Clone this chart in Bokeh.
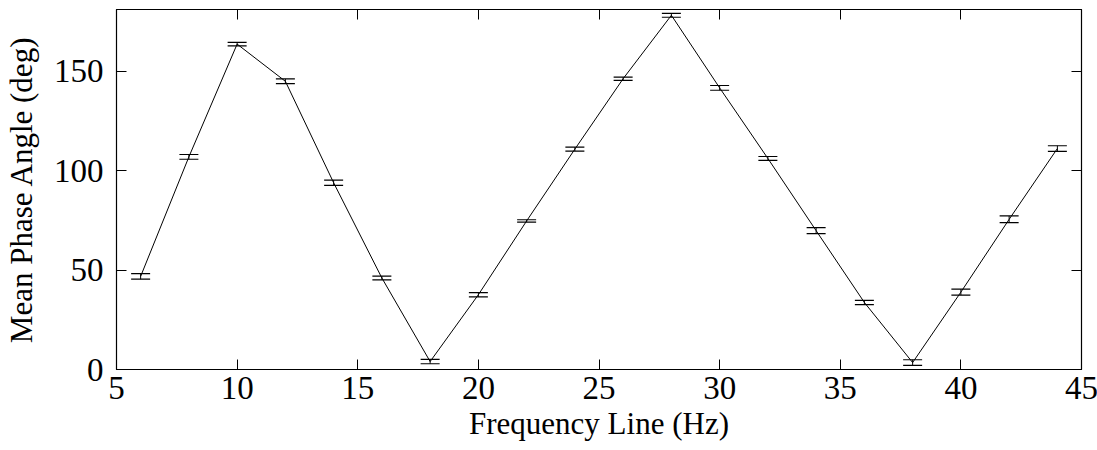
from bokeh.plotting import figure
from bokeh.models import ColumnDataSource, Whisker, TeeHead, LinearAxis, Range1d, FixedTicker
from bokeh.embed import file_html
from bokeh.resources import INLINE

freq = [6, 8, 10, 12, 14, 16, 18, 20, 22, 24, 26, 28, 30, 32, 34, 36, 38, 40, 42, 44]
phase = [46.8, 106.9, 163.6, 144.9, 93.9, 46.0, 4.0, 37.6, 74.7, 110.8, 146.2, 178.1,
         141.6, 106.1, 69.8, 33.7, 3.5, 38.9, 75.5, 111.1]
err = [1.4, 1.2, 0.85, 1.2, 1.3, 0.9, 1.1, 1.1, 0.6, 1.0, 0.8, 1.0,
       1.2, 1.0, 1.5, 1.1, 1.4, 1.5, 1.7, 1.4]
x_ticks = [5, 10, 15, 20, 25, 30, 35, 40, 45]
y_ticks = [0, 50, 100, 150]

lower = [p - e for p, e in zip(phase, err)]
upper = [p + e for p, e in zip(phase, err)]
src = ColumnDataSource(dict(x=freq, y=phase, lower=lower, upper=upper))

FONT = "Liberation Serif"

p = figure(frame_width=965, frame_height=360, output_backend="svg", toolbar_location=None,
           x_range=Range1d(5, 45), y_range=Range1d(0, 181),
           min_border_left=114, min_border_top=9, min_border_right=18, min_border_bottom=81)
p.width = 1097
p.height = 450
p.grid.visible = False
p.outline_line_color = "black"
p.outline_line_width = 1.2

p.line("x", "y", source=src, line_color="black", line_width=1)
w = Whisker(source=src, base="x", lower="lower", upper="upper", dimension="height",
            line_color="black", line_width=1,
            upper_head=TeeHead(size=19, line_color="black", line_width=1.2),
            lower_head=TeeHead(size=19, line_color="black", line_width=1.2))
p.add_layout(w)

for ax in (p.xaxis[0], p.yaxis[0]):
    ax.major_tick_in = 10
    ax.major_tick_out = 0
    ax.minor_tick_line_color = None
    ax.axis_line_color = "black"
    ax.major_tick_line_color = "black"
    ax.major_label_text_font = FONT
    ax.major_label_text_font_size = "33px"
    ax.major_label_text_color = "black"
    ax.axis_label_text_font = FONT
    ax.axis_label_text_font_size = "31px"
    ax.axis_label_text_font_style = "normal"
    ax.axis_label_text_color = "black"

p.xaxis[0].ticker = FixedTicker(ticks=x_ticks)
p.yaxis[0].ticker = FixedTicker(ticks=y_ticks)
p.xaxis[0].axis_label = "Frequency Line (Hz)"
p.yaxis[0].axis_label = "Mean Phase Angle (deg)"
p.xaxis[0].major_label_standoff = 7
p.yaxis[0].major_label_standoff = 13
p.xaxis[0].axis_label_standoff = 4
p.yaxis[0].axis_label_standoff = 12

top = LinearAxis(ticker=FixedTicker(ticks=x_ticks), major_label_text_font_size="0px",
                 major_tick_in=10, major_tick_out=0, minor_tick_line_color=None,
                 major_label_text_color=None)
right = LinearAxis(ticker=FixedTicker(ticks=y_ticks), major_label_text_font_size="0px",
                   major_tick_in=10, major_tick_out=0, minor_tick_line_color=None,
                   major_label_text_color=None)
p.add_layout(top, "above")
p.add_layout(right, "right")

open("out.html", "w").write(file_html(p, INLINE))
